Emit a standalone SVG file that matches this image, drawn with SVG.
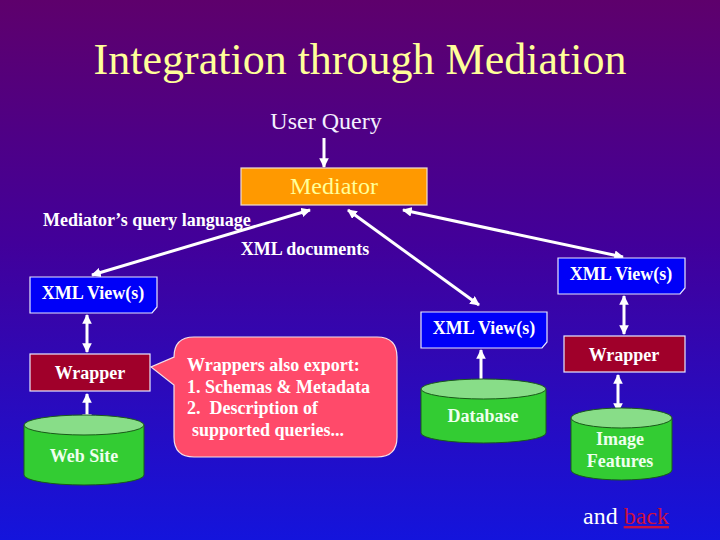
<svg xmlns="http://www.w3.org/2000/svg" width="720" height="540" viewBox="0 0 720 540">
<defs>
<linearGradient id="bg" x1="0" y1="0" x2="0" y2="1">
<stop offset="0" stop-color="#5e006c"/>
<stop offset="0.45" stop-color="#42009a"/>
<stop offset="1" stop-color="#1414dc"/>
</linearGradient>
<marker id="ah" viewBox="0 0 10 10" refX="9" refY="5" markerWidth="3.2" markerHeight="3.2" orient="auto-start-reverse" markerUnits="strokeWidth">
<path d="M0,0 L10,5 L0,10 Z" fill="#ffffff"/>
</marker>
<style>
.b{font-family:"Liberation Serif","Times New Roman",serif;font-weight:bold;font-size:18px;fill:#ffffff}
.n{font-family:"Liberation Serif","Times New Roman",serif;font-size:24px}
.c{stroke:#ffffff;stroke-width:3;fill:none;marker-start:url(#ah);marker-end:url(#ah)}
.view{fill:#0000f8;stroke:#e8e8ff;stroke-width:1.2}
.wrap{fill:#a0002a;stroke:#e8e8ff;stroke-width:1.2}
.cyl{fill:#33cc33;stroke:#1a5a1a;stroke-width:1}
.cyltop{fill:#88dd88;stroke:#1a5a1a;stroke-width:1}
.ct{font-family:"Liberation Serif","Times New Roman",serif;font-weight:bold;font-size:18px;fill:#eeffee}
</style>
</defs>
<rect width="720" height="540" fill="url(#bg)"/>
<text x="360" y="74" text-anchor="middle" font-family="Liberation Serif, Times New Roman, serif" font-size="44" fill="#ffff99">Integration through Mediation</text>
<text class="n" x="326" y="129" text-anchor="middle" fill="#f4f0ff">User Query</text>
<text class="b" x="43" y="226">Mediator’s query language</text>
<text class="b" x="305" y="255" text-anchor="middle">XML documents</text>

<g id="connectors">
<line x1="324" y1="138" x2="324" y2="167" stroke="#ffffff" stroke-width="3" marker-end="url(#ah)"/>
<line class="c" x1="310" y1="210" x2="92" y2="275"/>
<line class="c" x1="403" y1="210" x2="623" y2="257"/>
<line class="c" x1="348" y1="210" x2="479" y2="305"/>
<line class="c" x1="87" y1="315" x2="87" y2="352"/>
<line class="c" x1="87" y1="394" x2="87" y2="423"/>
<line class="c" x1="624" y1="296" x2="624" y2="334"/>
<line class="c" x1="618" y1="375" x2="618" y2="412"/>
<line class="c" x1="481" y1="350" x2="481" y2="390"/>
</g>

<g id="mediator">
<rect x="241" y="168" width="186" height="37" fill="#ff9900" stroke="#f0e0d0" stroke-width="1.2"/>
<text class="n" x="334" y="194" text-anchor="middle" fill="#ffff99">Mediator</text>
</g>

<g id="view-left">
<path class="view" d="M30,277 H157 V307 L152,313 H30 Z"/>
<text class="b" x="93" y="299" text-anchor="middle">XML View(s)</text>
</g>
<g id="view-right">
<path class="view" d="M558,258 H685 V288 L680,294 H558 Z"/>
<text class="b" x="621" y="280" text-anchor="middle">XML View(s)</text>
</g>
<g id="view-mid">
<path class="view" d="M421,312 H547 V342 L542,348 H421 Z"/>
<text class="b" x="484" y="334" text-anchor="middle">XML View(s)</text>
</g>

<g id="wrapper-left">
<rect class="wrap" x="30" y="354" width="120" height="37"/>
<text class="b" x="90" y="379" text-anchor="middle">Wrapper</text>
</g>
<g id="wrapper-right">
<rect class="wrap" x="564" y="336" width="121" height="36"/>
<text class="b" x="624" y="361" text-anchor="middle">Wrapper</text>
</g>

<g id="website">
<path class="cyl" d="M24,425 V475 A60,10 0 0 0 144,475 V425 Z"/>
<ellipse class="cyltop" cx="84" cy="425" rx="60" ry="10"/>
<text class="ct" x="84" y="462" text-anchor="middle">Web Site</text>
</g>
<g id="database">
<path class="cyl" d="M421,389 V433 A62.5,10 0 0 0 546,433 V389 Z"/>
<ellipse class="cyltop" cx="483.5" cy="389" rx="62.5" ry="10"/>
<text class="ct" x="483" y="422" text-anchor="middle">Database</text>
</g>
<g id="image-features">
<path class="cyl" d="M571,418 V470 A50.5,10 0 0 0 672,470 V418 Z"/>
<ellipse class="cyltop" cx="621.5" cy="418" rx="50.5" ry="10"/>
<text class="ct" x="620" y="445" text-anchor="middle">Image</text>
<text class="ct" x="620" y="467" text-anchor="middle">Features</text>
</g>

<g id="callout">
<path d="M194,337 H377 Q397,337 397,357 V437 Q397,457 377,457 H194 Q174,457 174,437 V385 L151,367 L174,357 Q174,337 194,337 Z" fill="#ff4a6a" stroke="#f4e0e8" stroke-width="1.2"/>
<text class="b" x="187" y="371" fill="#ffe8ec">Wrappers also export:</text>
<text class="b" x="187" y="393" fill="#ffe8ec">1. Schemas &amp; Metadata</text>
<text class="b" x="187" y="414" fill="#ffe8ec" xml:space="preserve">2.  Description of</text>
<text class="b" x="192" y="436" fill="#ffe8ec">supported queries...</text>
</g>

<text class="n" x="583" y="524" fill="#ffffff">and <tspan fill="#cc1040" text-decoration="underline">back</tspan></text>
</svg>
